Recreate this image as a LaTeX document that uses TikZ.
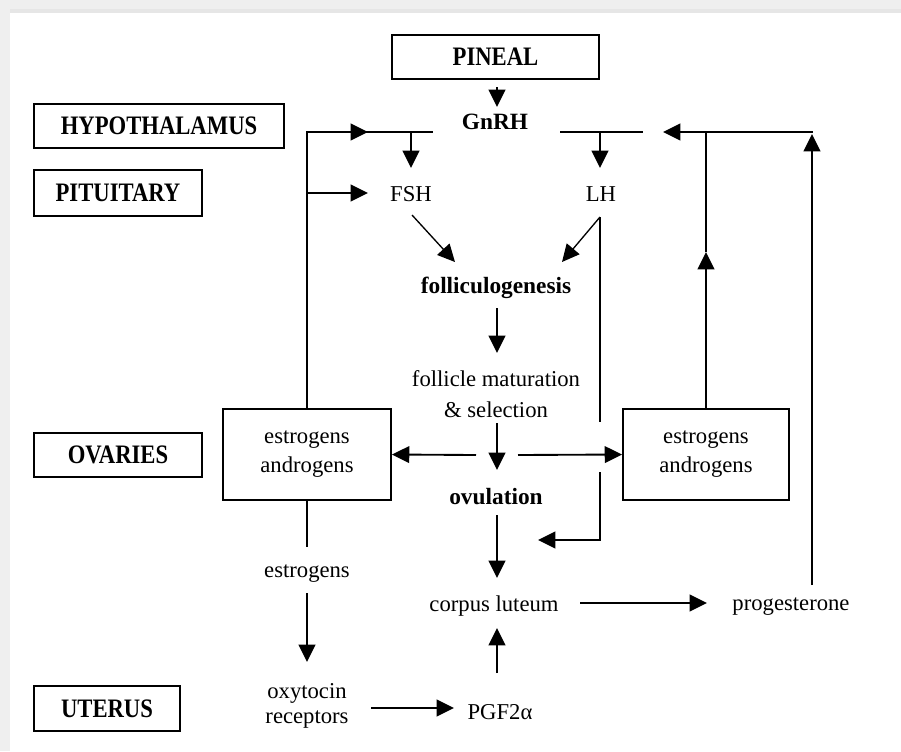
\documentclass[tikz,border=0pt]{standalone}
\usepackage{graphicx}
\usepackage{fontspec}
\setmainfont{Liberation Serif}
\usetikzlibrary{arrows.meta,calc}
\definecolor{bggray}{HTML}{EFEFEF}
\definecolor{bandgray}{HTML}{E6E6E6}
\newcommand\lblsx[1]{\scalebox{0.85}[1]{#1}}
\begin{document}
\begin{tikzpicture}[x=0.75pt,y=-0.75pt, line width=1.4pt,
 arr/.style={-{Triangle[length=13pt,width=12.5pt]}},
 lbl/.style={draw, line width=1.4pt, inner sep=0pt, font=\fontsize{20}{22}\selectfont\bfseries},
 obox/.style={draw, line width=1.4pt, inner sep=0pt, align=center, font=\fontsize{17}{21.75}\selectfont},
 txt/.style={inner sep=0pt, font=\fontsize{17}{20}\selectfont},
 btxt/.style={inner sep=0pt, font=\fontsize{17.5}{20}\selectfont\bfseries}]
% background
\fill[bggray] (0,0) rectangle (901,751);
\fill[bandgray] (10,9) rectangle (901,13);
\fill[white] (10,13) rectangle (901,751);
\useasboundingbox (0,0) rectangle (901,751);
% label boxes
\node[lbl, minimum width=155.25pt, minimum height=33pt] (pineal) at (495.5,57) {\lblsx{PINEAL}};
\node[lbl, minimum width=187.5pt, minimum height=33pt] (hypo) at (159,126) {\lblsx{HYPOTHALAMUS}};
\node[lbl, minimum width=126pt, minimum height=34.5pt] (pit) at (118,193) {\lblsx{PITUITARY}};
\node[lbl, minimum width=126pt, minimum height=33pt] (ova) at (118,455) {\lblsx{OVARIES}};
\node[lbl, minimum width=109.5pt, minimum height=33.75pt] (ut) at (107,708.5) {\lblsx{UTERUS}};
% ovary boxes
\node[obox, minimum width=126pt, minimum height=68.25pt] (lbox) at (307,454.5) {estrogens\\androgens};
\node[obox, minimum width=124.5pt, minimum height=68.25pt] (rbox) at (706,454.5) {estrogens\\androgens};
% texts
\node[btxt] (gnrh) at (495,122) {GnRH};
\node[txt] (fsh) at (411,194) {FSH};
\node[txt] (lh) at (601,194) {LH};
\node[btxt] (foll) at (496,288) {folliculogenesis};
\node[txt, align=center, font=\fontsize{17}{23.25}\selectfont] (mat) at (496,394.5) {follicle maturation\\\& selection};
\node[btxt] (ovul) at (496,497) {ovulation};
\node[txt] (corpus) at (494,606) {corpus luteum};
\node[txt] (prog) at (791,607) {progesterone};
\node[txt] (estr) at (307,574) {estrogens};
\node[txt, align=center, font=\fontsize{17}{18.75}\selectfont] (oxy) at (307,705.5) {oxytocin\\receptors};
\node[txt] (pgf) at (500,712) {PGF2α};
% coordinates
\coordinate (pg1) at (497,87);  \coordinate (pg2) at (497,107);
\coordinate (jL) at (307,132);  \coordinate (aL) at (368,132);  \coordinate (gL) at (433,132);
\coordinate (bF) at (411,132);  \coordinate (tF) at (411,168);
\coordinate (jL2) at (307,193); \coordinate (tF2) at (368,193);
\coordinate (gR) at (560,132);  \coordinate (eR) at (643,132);
\coordinate (bLH) at (600,132); \coordinate (tLH) at (600,168);
\coordinate (cR) at (812.6,132); \coordinate (tR) at (663,132);
\coordinate (jR) at (706,132);  \coordinate (mR) at (706,252);
\coordinate (pR) at (812,585);  \coordinate (tpR) at (812,134);
\coordinate (f1) at (412,215);  \coordinate (f2) at (455,262);
\coordinate (l1) at (600,217);  \coordinate (l2) at (562,262);
\coordinate (lv1) at (600,422); \coordinate (lv2) at (600,472);
\coordinate (lv3) at (600,540); \coordinate (lv4) at (538,540);
\coordinate (c1) at (497,308);  \coordinate (c2) at (497,353);
\coordinate (c3) at (497,423);  \coordinate (c4) at (497,470);
\coordinate (hL) at (476,455);  \coordinate (hR) at (518,455);
\coordinate (c5) at (497,515);  \coordinate (c6) at (497,578);
\coordinate (ls) at (307,547);
\coordinate (e1) at (307,593);  \coordinate (e2) at (307,662);
\coordinate (p1) at (580,603);  \coordinate (p2) at (707,603);
\coordinate (g1) at (497,673);  \coordinate (g2) at (497,628);
\coordinate (o1) at (371,708);  \coordinate (o2) at (454,708);
% connectors
\draw[arr] (pg1) -- (pg2);
\draw (lbox.north) -- (jL) -- (gL);
\draw[arr] (jL) -- (aL);
\draw[arr] (bF) -- (tF);
\draw[arr] (jL2) -- (tF2);
\draw (gR) -- (eR);
\draw[arr] (bLH) -- (tLH);
\draw[arr] (cR) -- (tR);
\draw[arr] (rbox.north) -- (mR);
\draw (mR) -- (jR);
\draw[arr] (pR) -- (tpR);
\draw[arr, line width=1pt] (f1) -- (f2);
\draw[arr, line width=1pt] (l1) -- (l2);
\draw[line width=1pt] (l1) -- (lv1);
\draw[arr] (lv2) -- (lv3) -- (lv4);
\draw[arr] (c1) -- (c2);
\draw[arr] (c3) -- (c4);
\draw[arr] (hL) -- (lbox.east);
\draw[arr] (hR) -- (rbox.west);
\draw[arr] (c5) -- (c6);
\draw (lbox.south) -- (ls);
\draw[arr] (e1) -- (e2);
\draw[arr] (p1) -- (p2);
\draw[arr] (g1) -- (g2);
\draw[arr] (o1) -- (o2);
\end{tikzpicture}
\end{document}
